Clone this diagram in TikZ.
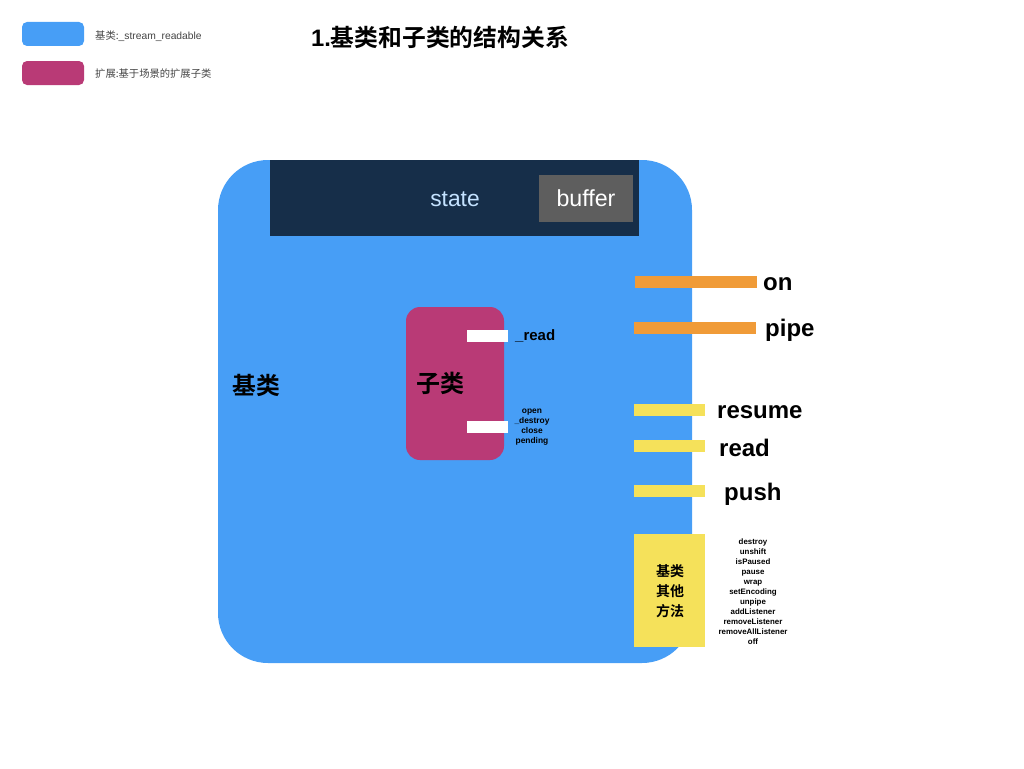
\documentclass[tikz,border=0pt]{standalone}
\usepackage{fontspec}
\setmainfont{Liberation Sans}
\newfontfamily\cjk{Noto Sans CJK SC}[BoldFont=Noto Sans CJK SC Bold]
\definecolor{baseblue}{HTML}{479EF6}
\definecolor{subpink}{HTML}{B93A76}
\definecolor{navy}{HTML}{162E49}
\definecolor{bufgray}{HTML}{5E5E5E}
\definecolor{statetxt}{HTML}{C4E2FF}
\definecolor{orangebar}{HTML}{F09B38}
\definecolor{yellowbar}{HTML}{F5E15A}
\definecolor{legtxt}{HTML}{444444}
\tikzset{
  bar/.style={inner sep=0pt, minimum height=12pt, anchor=west},
  meth/.style={font=\fontsize{24}{28}\selectfont\bfseries, anchor=west, inner sep=0pt},
  tiny/.style={align=center, inner sep=0pt},
  legtext/.style={font=\fontsize{10.3}{12}\selectfont, text=legtxt, anchor=west, inner sep=0pt},
}
\begin{document}
\begin{tikzpicture}[x=1pt,y=-1pt]
\useasboundingbox (0,0) rectangle (1024,768);
% legend
\fill[baseblue, rounded corners=5pt] (22,22) rectangle (84,46);
\node[legtext] (leg1) at (95,36) {{\cjk 基类:}\_stream\_readable};
\fill[subpink, rounded corners=5pt] (22,61) rectangle (84,85);
\node[legtext] (leg2) at (95,74) {{\cjk 扩展:基于场景的扩展子类}};
% title
\node[font=\fontsize{23.8}{28}\selectfont\bfseries, inner sep=0pt] (title) at (440,37) {1.{\cjk\bfseries 基类和子类的结构关系}};
% base class
\fill[baseblue, rounded corners=50pt] (218,160) rectangle (692,663);
\fill[navy] (270,160) rectangle (639,236);
\node[text=statetxt, font=\fontsize{22.8}{26}\selectfont, inner sep=0pt] (state) at (455,199) {state};
\node[fill=bufgray, text=white, font=\fontsize{23.2}{26}\selectfont, minimum width=94pt, minimum height=47pt, inner sep=0pt] (buffer) at (586,198.5) {buffer};
\node[font=\fontsize{23.8}{28}\selectfont\cjk\bfseries, inner sep=0pt] (base) at (256,385) {基类};
% subclass
\fill[subpink, rounded corners=14pt] (406,307) rectangle (504,460);
\node[font=\fontsize{24}{28}\selectfont\cjk\bfseries, inner sep=0pt] (sub) at (440,383) {子类};
\node[bar, fill=white, minimum width=41pt] (w1) at (467,336) {};
\node[bar, fill=white, minimum width=41pt] (w2) at (467,427) {};
\node[font=\fontsize{15}{18}\selectfont\bfseries, anchor=west, inner sep=0pt] (readu) at (515,335.5) {\_read};
\node[tiny, font=\fontsize{8.4}{10}\selectfont\bfseries] (subm) at (532,427.5) {open\\\_destroy\\close\\pending};
% methods
\node[bar, fill=orangebar, minimum width=122pt] (b1) at (635,282) {};
\node[bar, fill=orangebar, minimum width=122pt] (b2) at (634,328) {};
\node[bar, fill=yellowbar, minimum width=71pt] (b3) at (634,410) {};
\node[bar, fill=yellowbar, minimum width=71pt] (b4) at (634,446) {};
\node[bar, fill=yellowbar, minimum width=71pt] (b5) at (634,491) {};
\node[meth] (on) at (763,284.5) {on};
\node[meth] (pipe) at (765,330.5) {pipe};
\node[meth] (resume) at (717,412) {resume};
\node[meth] (read) at (719,448) {read};
\node[meth] (push) at (724,494) {push};
% other methods
\node[fill=yellowbar, minimum width=71pt, minimum height=113pt, inner sep=0pt, anchor=north west] (other) at (634,534) {};
\node[font=\fontsize{14}{20}\selectfont\cjk\bfseries, align=center, inner sep=0pt] (otxt) at (670,591) {基类\\其他\\方法};
\node[tiny, font=\fontsize{7.9}{10}\selectfont\bfseries] (olist) at (753,591.5) {destroy\\unshift\\isPaused\\pause\\wrap\\setEncoding\\unpipe\\addListener\\removeListener\\removeAllListener\\off};
\end{tikzpicture}
\end{document}
